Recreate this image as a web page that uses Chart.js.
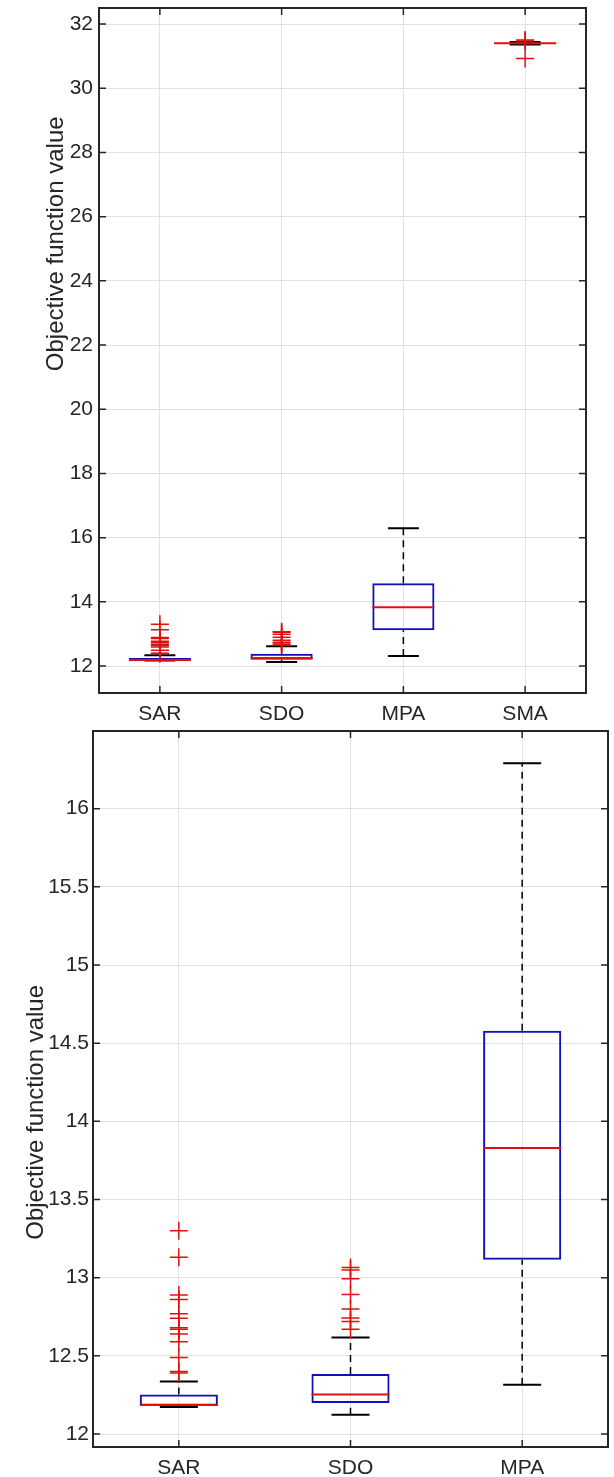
<!DOCTYPE html>
<html>
<head>
<meta charset="utf-8">
<script src="https://cdn.jsdelivr.net/npm/chart.js@4.4.1/dist/chart.umd.min.js"></script>
<style>
  html, body { margin: 0; padding: 0; background: #fff; }
  #topWrap { position: absolute; left: 0; top: 0; width: 614px; height: 728px; }
  #botWrap { position: absolute; left: 0; top: 728px; width: 614px; height: 749px; }
</style>
</head>
<body>
<div id="topWrap"><canvas id="topChart" width="614" height="728"></canvas></div>
<div id="botWrap"><canvas id="botChart" width="614" height="749"></canvas></div>
<script>
// ---- 1. DATA --------------------------------------------------------
const algosTop = ["SAR", "SDO", "MPA", "SMA"];
const algosBottom = ["SAR", "SDO", "MPA"];

// box statistics, same order as algosTop
const whiskerLow  = [12.173, 12.123, 12.315, 31.36];
const quartile1   = [12.181, 12.198, 13.115, 31.38];
const medians     = [12.186, 12.253, 13.830, 31.40];
const quartile3   = [12.253, 12.384, 14.580, 31.42];
const whiskerHigh = [12.336, 12.618, 16.290, 31.44];

// outliers ("+" markers)
const outliersSAR = [13.30, 13.13, 12.89, 12.86, 12.77, 12.74, 12.68, 12.67, 12.64, 12.59, 12.49, 12.40, 12.39];
const outliersSDO = [13.065, 13.05, 12.993, 12.893, 12.80, 12.742, 12.72, 12.671];
const outliersMPA = [];
const outliersSMA = [31.47, 31.50, 30.93];
const outlierSets = { SAR: outliersSAR, SDO: outliersSDO, MPA: outliersMPA, SMA: outliersSMA };

const yTicksTop = [12, 14, 16, 18, 20, 22, 24, 26, 28, 30, 32];
const yTicksBottom = [12, 12.5, 13, 13.5, 14, 14.5, 15, 15.5, 16];

const yTitle = "Objective function value";

// ---- 2. STYLE -------------------------------------------------------
const FONT = "'Liberation Sans', Arial, sans-serif";
const TEXT = "#262626";
const BOX_BLUE = "#1010b8";
const MED_RED = "#e01010";

// frame round the plot + MATLAB-style inward ticks
const frameAndTicks = {
  id: "frameAndTicks",
  afterDraw(chart) {
    const { ctx, chartArea: a, scales } = chart;
    const len = 7;
    ctx.save();
    ctx.strokeStyle = TEXT;
    ctx.lineWidth = 1.5;
    ctx.beginPath();
    scales.x.ticks.forEach((t, i) => {
      const px = scales.x.getPixelForTick(i);
      ctx.moveTo(px, a.bottom); ctx.lineTo(px, a.bottom - len);
      ctx.moveTo(px, a.top); ctx.lineTo(px, a.top + len);
    });
    scales.y.ticks.forEach((t, i) => {
      const py = scales.y.getPixelForTick(i);
      ctx.moveTo(a.left, py); ctx.lineTo(a.left + len, py);
      ctx.moveTo(a.right, py); ctx.lineTo(a.right - len, py);
    });
    ctx.stroke();
    ctx.lineWidth = 2;
    ctx.strokeRect(a.left, a.top, a.right - a.left, a.bottom - a.top);
    ctx.restore();
  }
};

// ---- 3. CHART BUILDER -----------------------------------------------
function makeBoxChart(canvasId, labels, cfg) {
  const datasets = [];

  // dashed whiskers, one pair per algorithm
  labels.forEach((lab, i) => {
    [[quartile3[i], whiskerHigh[i]], [whiskerLow[i], quartile1[i]]].forEach(seg => {
      datasets.push({
        type: "line",
        data: [{ x: lab, y: seg[0] }, { x: lab, y: seg[1] }],
        borderColor: "#000",
        borderWidth: 1.5,
        borderDash: [7, 5],
        pointRadius: 0,
        order: 6
      });
    });
  });

  // boxes (floating bars q1..q3)
  datasets.push({
    type: "bar",
    data: labels.map((lab, i) => [quartile1[i], quartile3[i]]),
    backgroundColor: "rgba(0,0,0,0)",
    borderColor: BOX_BLUE,
    borderWidth: 2,
    borderSkipped: false,
    barPercentage: cfg.boxPct,
    categoryPercentage: 1,
    order: 5
  });

  // whisker caps
  [whiskerHigh, whiskerLow].forEach(arr => {
    datasets.push({
      type: "line",
      data: labels.map((lab, i) => arr[i]),
      showLine: false,
      pointStyle: "line",
      pointRadius: cfg.capR,
      pointHoverRadius: cfg.capR,
      pointBorderColor: "#000",
      pointBorderWidth: 2,
      order: 4
    });
  });

  // medians
  datasets.push({
    type: "line",
    data: labels.map((lab, i) => medians[i]),
    showLine: false,
    pointStyle: "line",
    pointRadius: cfg.medR,
    pointHoverRadius: cfg.medR,
    pointBorderColor: MED_RED,
    pointBorderWidth: 2,
    order: 3
  });

  // outliers
  const outPts = [];
  labels.forEach(lab => outlierSets[lab].forEach(v => outPts.push({ x: lab, y: v })));
  datasets.push({
    type: "line",
    data: outPts,
    showLine: false,
    pointStyle: "cross",
    pointRadius: 9,
    pointHoverRadius: 9,
    pointBorderColor: MED_RED,
    pointBorderWidth: 1.5,
    order: 1
  });

  // spaces before/after the label slide it along the axis (MATLAB placement)
  const titleText = " ".repeat(cfg.titleLead) + yTitle + " ".repeat(cfg.titleTrail);

  return new Chart(document.getElementById(canvasId), {
    type: "bar",
    data: { labels: labels, datasets: datasets },
    options: {
      responsive: false,
      animation: false,
      layout: { padding: cfg.padding, autoPadding: false },
      plugins: { legend: { display: false }, tooltip: { enabled: false } },
      scales: {
        x: {
          type: "category",
          offset: true,
          grid: { offset: false, color: "#e2e2e2", lineWidth: 1, drawTicks: false },
          border: { display: false },
          ticks: { color: TEXT, font: { family: FONT, size: 21 }, padding: cfg.xPad },
          afterFit: s => {
            s.height = cfg.xHeight;
            s.paddingLeft = 0; s.paddingRight = 0;
          }
        },
        y: {
          min: cfg.yMin,
          max: cfg.yMax,
          grid: { color: "#e2e2e2", lineWidth: 1, drawTicks: false },
          border: { display: false },
          afterBuildTicks: s => { s.ticks = cfg.yTicks.map(v => ({ value: v })); },
          ticks: {
            color: TEXT,
            font: { family: FONT, size: 21 },
            padding: cfg.yPad,
            callback: v => String(v)
          },
          title: {
            display: true,
            text: titleText,
            color: TEXT,
            font: { family: FONT, size: 24 },
            padding: 0
          },
          afterFit: s => {
            s.width = cfg.yWidth;
            s.paddingTop = 0; s.paddingBottom = 0;
          }
        }
      }
    },
    plugins: [frameAndTicks]
  });
}

// ---- 4. THE TWO PANELS ----------------------------------------------
makeBoxChart("topChart", algosTop, {
  yMin: 11.16, yMax: 32.5, yTicks: yTicksTop,
  boxPct: 0.51, capR: 15.5, medR: 31,
  padding: { left: 42, top: 8, right: 28, bottom: 0 },
  yWidth: 57, xHeight: 35, xPad: 9, yPad: 6,
  titleLead: 32, titleTrail: 0
});

makeBoxChart("botChart", algosBottom, {
  yMin: 11.917, yMax: 16.497, yTicks: yTicksBottom,
  boxPct: 0.455, capR: 19, medR: 39,
  padding: { left: 22, top: 3, right: 6, bottom: 0 },
  yWidth: 71, xHeight: 30, xPad: 9, yPad: 4,
  titleLead: 0, titleTrail: 7
});
</script>
</body>
</html>
